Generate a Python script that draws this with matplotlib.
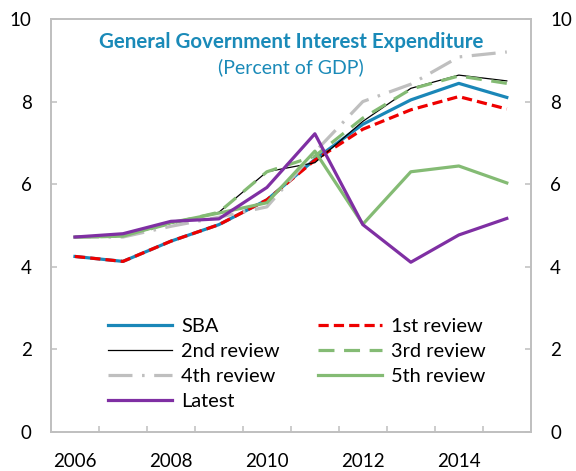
import matplotlib
matplotlib.use('Agg')
import matplotlib.pyplot as plt

years = [2006, 2007, 2008, 2009, 2010, 2011, 2012, 2013, 2014, 2015]
sba = [4.25, 4.13, 4.62, 5.02, 5.62, 6.60, 7.45, 8.04, 8.44, 8.10]
rev1 = [4.25, 4.13, 4.62, 5.02, 5.62, 6.58, 7.33, 7.80, 8.12, 7.82]
rev2 = [4.72, 4.74, 5.05, 5.32, 6.30, 6.52, 7.52, 8.32, 8.64, 8.50]
rev3 = [4.72, 4.74, 5.05, 5.32, 6.30, 6.68, 7.60, 8.30, 8.62, 8.44]
rev4 = [4.72, 4.72, 4.98, 5.20, 5.45, 6.78, 8.00, 8.42, 9.08, 9.20]
rev5 = [4.72, 4.74, 5.07, 5.30, 5.55, 6.80, 5.03, 6.30, 6.44, 6.03]
latest = [4.72, 4.80, 5.10, 5.16, 5.92, 7.22, 5.02, 4.11, 4.77, 5.17]
year_labels = ['2006', '2008', '2010', '2012', '2014']

plt.rcParams['font.family'] = ['Lato', 'DejaVu Sans']

blue = '#1a87b8'
red = '#ee0000'
green = '#84bb74'
purple = '#7f2fa3'
gray = '#bfbfbf'

fig = plt.figure(figsize=(5.76, 4.71), dpi=100)
ax = fig.add_axes([0.0885, 0.0828, 0.833, 0.877])

l_sba, = ax.plot(years, sba, color=blue, lw=2.3, label='SBA')
l_r1, = ax.plot(years, rev1, color=red, lw=2.3, dashes=(3.2, 1.6), label='1st review')
l_r2, = ax.plot(years, rev2, color='black', lw=0.9, label='2nd review')
l_r3, = ax.plot(years, rev3, color=green, lw=2.3, dashes=(5.0, 3.0), label='3rd review')
l_r4, = ax.plot(years, rev4, color=gray, lw=2.3, dashes=(7.5, 3.0, 0.8, 3.0), label='4th review')
l_r5, = ax.plot(years, rev5, color=green, lw=2.3, label='5th review')
l_lat, = ax.plot(years, latest, color=purple, lw=2.3, label='Latest')

ax.set_xlim(2005.5, 2015.5)
ax.set_ylim(0, 10)

# category style x axis: labels every 2 years, ticks between categories
ax.set_xticks([int(y) for y in year_labels])
ax.set_xticklabels(year_labels)
ax.set_xticks([y + 0.5 for y in years[:-1]], minor=True)
ax.tick_params(axis='x', which='major', length=0, pad=15, labelsize=13.5)
ax.tick_params(axis='x', which='minor', direction='in', length=4.5, width=1.1, color=gray)

ax.set_yticks([0, 2, 4, 6, 8, 10])
ax.tick_params(axis='y', direction='in', length=4.5, width=1.1, color=gray,
               left=True, right=True, labelleft=True, labelright=True,
               pad=14, labelsize=13.5)

for s in ax.spines.values():
    s.set_color(gray)
    s.set_linewidth(1.4)

ax.text(0.5, 0.944, 'General Government Interest Expenditure', transform=ax.transAxes,
        ha='center', va='center', fontsize=14.8, fontweight='bold', color='#1a8ab8')
ax.text(0.5, 0.882, '(Percent of GDP)', transform=ax.transAxes,
        ha='center', va='center', fontsize=14, color='#1a8ab8')

handles = [l_sba, l_r2, l_r4, l_lat, l_r1, l_r3, l_r5]
ax.legend(handles=handles, labels=[h.get_label() for h in handles], ncol=2,
          loc='center', bbox_to_anchor=(0.512, 0.165), frameon=False,
          fontsize=14.4, handlelength=3.2, handletextpad=0.45,
          columnspacing=1.9, labelspacing=0.4)

fig.savefig('out.png', dpi=100)
